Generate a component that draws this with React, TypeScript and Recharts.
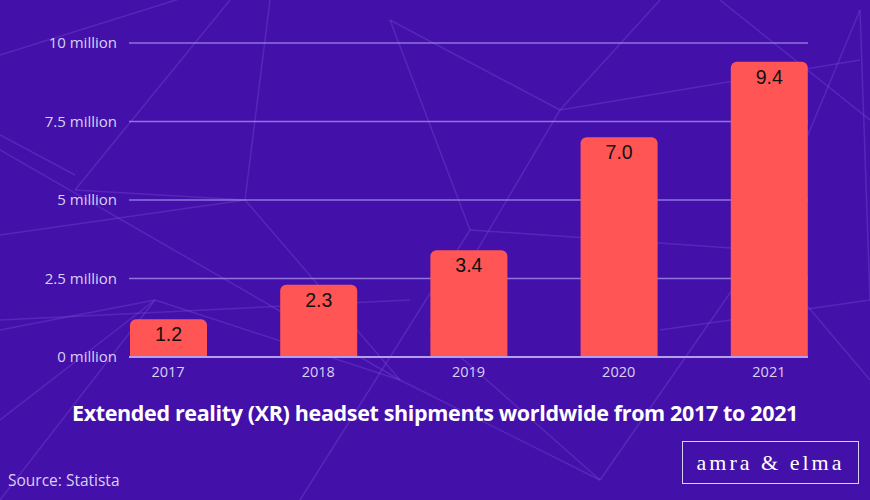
import React from "react";
import { BarChart, Bar, XAxis, YAxis, CartesianGrid, LabelList } from "recharts";

const years = ["2017", "2018", "2019", "2020", "2021"];
const shipments = [1.2, 2.3, 3.4, 7.0, 9.4];
const yTicks = [0, 2.5, 5, 7.5, 10];

const data = years.map((y, i) => ({ year: y, value: shipments[i] }));

const BG = "#4410aa";
const BAR = "#ff5555";
const LAV = "#d9d0f2";
const FONT = "'Open Sans', sans-serif";

const bgLines: [number, number, number, number][] = [
  [0, 55, 240, -20], [0, 135, 75, 175], [0, 150, 400, 380], [0, 235, 245, 200],
  [75, 190, 245, 200], [75, 190, 230, 0], [245, 200, 270, 0], [245, 200, 400, 380],
  [0, 320, 410, 300], [0, 330, 155, 300], [0, 500, 155, 300], [155, 300, 400, 380],
  [390, 20, 470, 230], [390, 20, 560, 110], [560, 110, 430, 330], [560, 110, 860, 60],
  [660, 0, 560, 110], [860, 10, 760, 250], [860, 10, 870, 300], [660, 330, 870, 300],
  [600, 480, 760, 250], [300, 500, 470, 230], [470, 230, 760, 250], [600, 480, 430, 330],
  [870, 380, 760, 250], [400, 380, 600, 480], [0, 420, 155, 300], [720, 0, 870, 120],
];

export default function App() {
  return (
    <div style={{ position: "absolute", left: 0, top: 0, width: 870, height: 500, background: BG, overflow: "hidden", fontFamily: FONT }}>
      <style>{`body{margin:0} .recharts-text{font-family:'Open Sans',sans-serif}`}</style>
      <svg width={870} height={500} style={{ position: "absolute", left: 0, top: 0 }}>
        {bgLines.map((l, i) => (
          <line key={i} x1={l[0]} y1={l[1]} x2={l[2]} y2={l[3]} stroke="#7a4fd6" strokeOpacity={0.35} strokeWidth={1.5} />
        ))}
      </svg>
      <div style={{ position: "absolute", left: 0, top: 0 }}>
        <BarChart width={870} height={400} data={data} margin={{ top: 43, right: 62, bottom: 13, left: 0 }} style={{ fontFamily: FONT }}>
          <CartesianGrid vertical={false} stroke="#9f85e8" strokeOpacity={0.85} strokeWidth={1.6} />
          <XAxis
            dataKey="year"
            padding={{ left: -36, right: -36 }}
            axisLine={{ stroke: "#b4a0ea", strokeWidth: 2 }}
            tickLine={false}
            tick={{ fill: LAV, fontSize: 14.5, fontFamily: FONT }}
            tickMargin={4}
            height={30}
          />
          <YAxis
            domain={[0, 10]}
            ticks={yTicks}
            axisLine={false}
            tickLine={false}
            tickMargin={6}
            width={129}
            tickFormatter={(v: number) => `${v} million`}
            tick={{ fill: LAV, fontSize: 15, fontFamily: FONT }}
          />
          <Bar dataKey="value" fill={BAR} barSize={77} radius={[6, 6, 0, 0]} isAnimationActive={false}>
            <LabelList
              dataKey="value"
              position="insideTop"
              offset={8}
              formatter={(v: number) => v.toFixed(1)}
              style={{ fill: "#111", fontSize: 19.5, fontWeight: 500, fontFamily: "'Liberation Sans', Arial, sans-serif" }}
            />
          </Bar>
        </BarChart>
      </div>
      <div style={{ position: "absolute", left: 0, width: 870, top: 398, textAlign: "center", color: "#fff", fontWeight: 700, fontSize: 21.5, letterSpacing: -0.35, whiteSpace: "nowrap" }}>
        Extended reality (XR) headset shipments worldwide from 2017 to 2021
      </div>
      <div style={{ position: "absolute", left: 8, top: 469, color: LAV, fontSize: 15.5 }}>Source: Statista</div>
      <div style={{ position: "absolute", left: 682, top: 441, width: 175, height: 41, border: "1.5px solid #d9d0f2", color: "#fff", fontFamily: "'Liberation Serif', 'DejaVu Serif', serif", fontSize: 22, letterSpacing: 3, textAlign: "center", lineHeight: "41px" }}>
        amra &amp; elma
      </div>
    </div>
  );
}
